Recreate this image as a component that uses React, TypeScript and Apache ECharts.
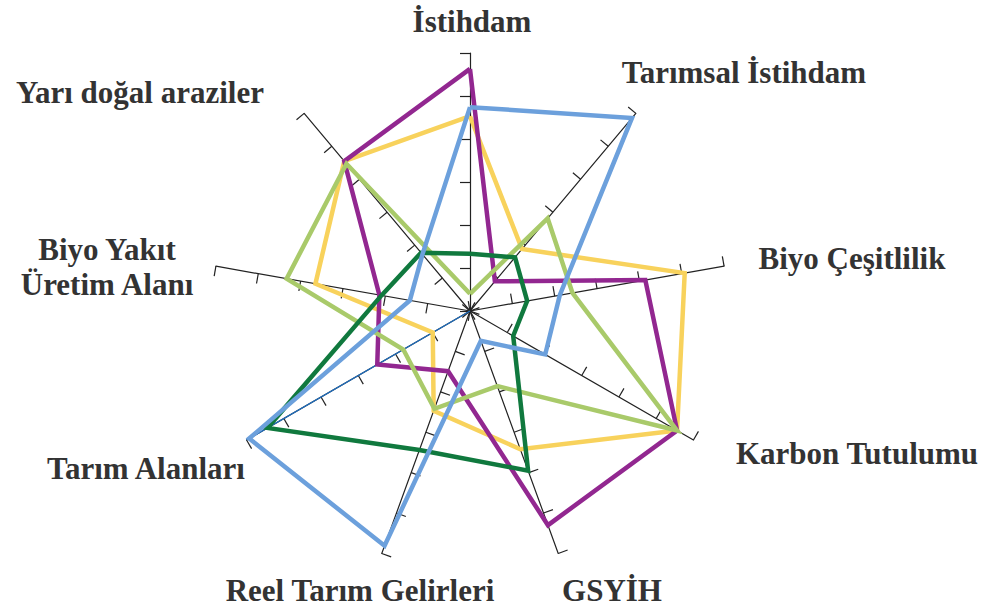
import React, { useEffect, useRef } from "react";
import * as echarts from "echarts";

// Indicators listed counter-clockwise starting at the top (ECharts radar order)
const categories = [
  "İstihdam",
  "Yarı doğal araziler",
  "Biyo Yakıt Üretim Alanı",
  "Tarım Alanları",
  "Reel Tarım Gelirleri",
  "GSYİH",
  "Karbon Tutulumu",
  "Biyo Çeşitlilik",
  "Tarımsal İstihdam",
];
const axisMax = 6;

const purpleValues = [5.63, 4.55, 2.14, 2.49, 1.49, 5.3, 5.56, 4.14, 0.9];
const yellowValues = [4.53, 4.55, 3.65, 1.0, 2.47, 3.42, 5.56, 5.07, 1.88];
const blueValues = [4.74, 1.72, 1.42, 5.93, 5.81, 0.74, 2.02, 2.12, 5.86];
const lightGreenValues = [0.4, 4.47, 4.33, 1.79, 2.42, 1.86, 5.56, 2.42, 2.81];
const darkGreenValues = [1.33, 1.77, 2.09, 5.44, 3.44, 3.95, 1.16, 1.35, 1.63];
// highlighted axis (drawn in thin blue)
const highlightAxis = [0, 0, 0, 6, 0, 0, 0, 0, 0];

const labelTexts = [
  { text: "İstihdam", x: 472, y: 21 },
  { text: "Yarı doğal araziler", x: 140, y: 92 },
  { text: "Biyo Yakıt\nÜretim Alanı", x: 107, y: 267 },
  { text: "Tarım Alanları", x: 146, y: 468 },
  { text: "Reel Tarım Gelirleri", x: 360, y: 590 },
  { text: "GSYİH", x: 612, y: 590 },
  { text: "Karbon Tutulumu", x: 857, y: 453 },
  { text: "Biyo Çeşitlilik", x: 852, y: 258 },
  { text: "Tarımsal İstihdam", x: 744, y: 72 },
];

export default function App() {
  const ref = useRef<HTMLDivElement>(null);
  useEffect(() => {
    document.body.style.margin = "0";
    const chart = echarts.init(ref.current!, null, { renderer: "svg" });
    const mkSeries = (name: string, data: number[], color: string, width: number, z: number) => ({
      type: "radar",
      name,
      z,
      symbol: "none",
      data: [{ value: data, name }],
      lineStyle: { color, width, join: "miter" },
      itemStyle: { color },
    });
    chart.setOption({
      animation: false,
      backgroundColor: "#ffffff",
      radar: {
        center: [470, 311],
        radius: 258,
        startAngle: 90,
        splitNumber: 6,
        shape: "polygon",
        indicator: categories.map((c) => ({ name: c, min: 0, max: axisMax })),
        axisName: { show: false },
        splitLine: { show: false },
        splitArea: { show: false },
        axisLine: { show: true, lineStyle: { color: "#222", width: 1.2 } },
        axisTick: { show: true, length: 10, lineStyle: { color: "#222", width: 1.2 } },
        axisLabel: { show: false },
      },
      series: [
        mkSeries("axis", highlightAxis, "#1f6fc0", 1.3, 1),
        mkSeries("yellow", yellowValues, "#f8d25c", 4.5, 2),
        mkSeries("purple", purpleValues, "#922790", 4.5, 3),
        mkSeries("lightgreen", lightGreenValues, "#a9ca6a", 4.5, 4),
        mkSeries("darkgreen", darkGreenValues, "#10793e", 4.5, 5),
        mkSeries("blue", blueValues, "#6ca0dc", 4.5, 6),
      ],
      graphic: labelTexts.map((l) => ({
        type: "text",
        x: l.x,
        y: l.y,
        style: {
          text: l.text,
          fill: "#333333",
          font: 'bold 31px "Liberation Serif", "Times New Roman", serif',
          align: "center",
          verticalAlign: "middle",
          lineHeight: 35,
        },
      })),
    });
    return () => chart.dispose();
  }, []);
  return <div ref={ref} style={{ width: 989, height: 610 }} />;
}
